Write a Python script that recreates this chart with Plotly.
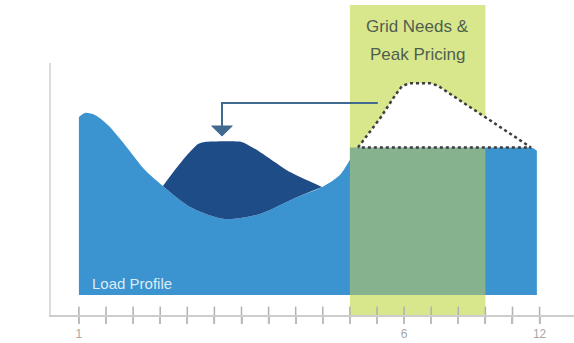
import plotly.graph_objects as go

# ---- data (x in tick units 0..17, y in kW) ----
tick_pos = list(range(18))
tick_text = ["1"] + [""] * 11 + ["6"] + [""] * 4 + ["12"]

base_kw = 0.79
load_t = [0, 0.22, 0.59, 1.07, 1.70, 2.44, 3.10, 4.10, 5.39, 6.68, 7.97, 8.97, 9.63, 10.0, 10.3, 11.0, 16.7, 16.9]
load_kw = [7.86, 8.02, 7.94, 7.54, 6.75, 5.75, 5.12, 4.29, 3.81, 4.01, 4.64, 5.08, 5.56, 6.15, 6.65, 6.65, 6.65, 6.52]

shift_t = [3.10, 3.54, 3.99, 4.39, 4.65, 6.01, 6.68, 7.79, 8.97]
shift_kw = [5.12, 5.75, 6.35, 6.79, 6.87, 6.87, 6.47, 5.67, 5.08]

peak_t = [10.3, 11.11, 11.66, 11.92, 12.21, 12.95, 13.25, 13.69, 16.68, 10.3]
peak_kw = [6.65, 7.80, 8.70, 9.08, 9.20, 9.20, 9.10, 8.78, 6.65, 6.65]

window = [10, 15]
flat_kw = 6.65

LIGHT = "#3b94cf"
DARK = "#1e4c86"
YELLOW = "#d9e78c"
GREEN = "#86b28d"
FONT = "Liberation Sans, Arial"

fig = go.Figure()

# baseline + load profile
fig.add_trace(go.Scatter(x=[load_t[0], load_t[-1]], y=[base_kw, base_kw], mode="lines",
                         line=dict(width=0, color=LIGHT), hoverinfo="skip", showlegend=False))
fig.add_trace(go.Scatter(x=load_t, y=load_kw, mode="lines", line=dict(width=0, color=LIGHT, shape="spline", smoothing=0.8),
                         fill="tonexty", fillcolor=LIGHT, hoverinfo="skip", showlegend=False))

# shifted load (dark)
lo = [i for i, t in enumerate(load_t) if shift_t[0] <= t <= shift_t[-1]]
fig.add_trace(go.Scatter(x=[load_t[i] for i in lo], y=[load_kw[i] for i in lo], mode="lines",
                         line=dict(width=0, color=DARK, shape="spline", smoothing=0.8), hoverinfo="skip", showlegend=False))
fig.add_trace(go.Scatter(x=shift_t, y=shift_kw, mode="lines", line=dict(width=0, color=DARK, shape="spline", smoothing=0.5),
                         fill="tonexty", fillcolor=DARK, hoverinfo="skip", showlegend=False))

# overlap of peak window and load
fig.add_trace(go.Scatter(x=[window[0], window[1], window[1], window[0], window[0]],
                         y=[base_kw, base_kw, flat_kw, flat_kw, base_kw], mode="lines", fill="toself",
                         fillcolor=GREEN, line=dict(width=0), hoverinfo="skip", showlegend=False))

# peak (dotted)
fig.add_trace(go.Scatter(x=peak_t, y=peak_kw, mode="lines", fill="toself", fillcolor="white",
                         line=dict(color="#3d3d3d", width=2.5, dash="dot"), hoverinfo="skip", showlegend=False))

# upper half of the crossing tick marks
fig.add_trace(go.Scatter(x=tick_pos, y=[0] * len(tick_pos), mode="markers", cliponaxis=False,
                         marker=dict(symbol="line-ns-open", size=12, color="#b0b0b0",
                                     line=dict(color="#b0b0b0", width=1.5)),
                         hoverinfo="skip", showlegend=False))

# arrow
AC = "#42698f"
arrow_y, arrow_x0, arrow_x1, head_top, head_tip, head_half = 8.41, 11.03, 5.28, 7.5, 7.1, 0.38
shapes = [
    dict(type="rect", xref="x", yref="paper", x0=window[0], x1=window[1], y0=0, y1=1.23,
         fillcolor=YELLOW, line=dict(width=0), layer="below"),
    dict(type="path", xref="x", yref="y",
         path=f"M {arrow_x0},{arrow_y} L {arrow_x1},{arrow_y} L {arrow_x1},{head_top}",
         line=dict(color=AC, width=2)),
    dict(type="path", xref="x", yref="y",
         path=f"M {arrow_x1-head_half},{head_top} L {arrow_x1+head_half},{head_top} L {arrow_x1},{head_tip} Z",
         fillcolor=AC, line=dict(color=AC, width=1)),
]

annotations = [
    dict(text="Grid Needs &", x=12.5, y=1.143, xref="x", yref="paper", yanchor="middle", showarrow=False,
         font=dict(family=FONT, size=17, color="#4f5e4f")),
    dict(text="Peak Pricing", x=12.5, y=1.032, xref="x", yref="paper", yanchor="middle", showarrow=False,
         font=dict(family=FONT, size=17, color="#4f5e4f")),
    dict(text="Load Profile", x=0.4, y=1.27, xref="x", yref="y", yanchor="middle", showarrow=False, xanchor="left",
         font=dict(family=FONT, size=15, color="#dcebf6")),
    dict(text="<b>kW</b>", x=-1.55, y=0.965, xref="x", yref="paper", yanchor="middle", showarrow=False, xanchor="center",
         font=dict(family=FONT, size=18, color="#a0a0a0")),
]

fig.update_layout(
    width=574, height=343, margin=dict(l=51, r=0, t=63, b=28),
    paper_bgcolor="white", plot_bgcolor="white",
    shapes=shapes, annotations=annotations,
    xaxis=dict(range=[-1.03, 18.27], tickvals=tick_pos, ticktext=tick_text, ticks="outside", ticklen=7,
               tickwidth=1.5, tickcolor="#bdbdbd", showline=True, linecolor="#cdcdcd", linewidth=2,
               showgrid=False, zeroline=False, tickfont=dict(family=FONT, size=12, color="#a8a8a8")),
    yaxis=dict(range=[0, 10], showline=True, linecolor="#dcdcdc", linewidth=2, showticklabels=False,
               ticks="", showgrid=False, zeroline=False),
)

fig.write_html("out.html")
